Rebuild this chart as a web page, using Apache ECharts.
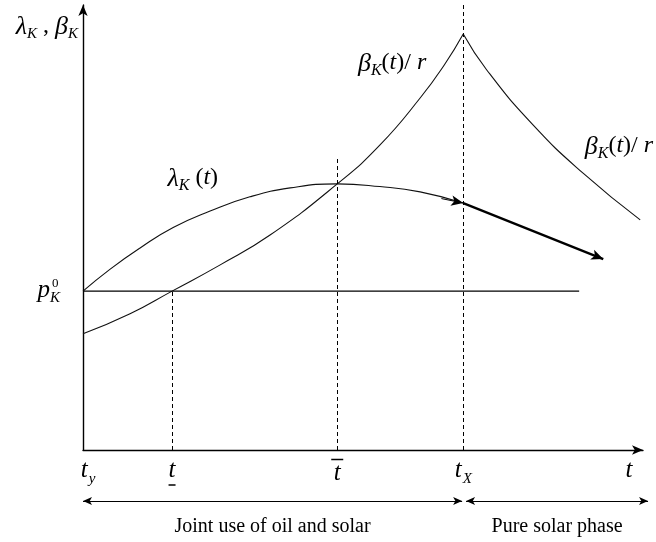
<!DOCTYPE html>
<html><head><meta charset="utf-8">
<script src="https://cdn.jsdelivr.net/npm/echarts@6/dist/echarts.min.js"></script>
<style>html,body{margin:0;padding:0;background:#fff}#c{width:656px;height:542px}</style>
</head><body><div id="c"></div>
<script>
// ---- data (x: time, 0..100 ; y: value, 0..100) ----
const lambdaX = [0, 4.8, 10.2, 16.1, 22.7, 29.8, 37.0, 45.4, 53.0, 60.2, 67.9];
const lambdaY = [35.7, 40.6, 45.4, 50.0, 53.7, 56.9, 58.9, 59.8, 59.2, 58.0, 55.5];
const betaRiseX = [0, 8.4, 15.9, 24.5, 33.4, 45.4, 53.0, 60.2, 64.6, 67.9];
const betaRiseY = [26.1, 30.6, 35.7, 41.6, 48.3, 59.8, 68.5, 79.1, 86.7, 93.5];
const betaFallX = [67.9, 72.1, 80.4, 89.3, 99.5];
const betaFallY = [93.5, 85.4, 73.0, 62.2, 51.7];
const pK0 = 35.7;
const pLineEnd = 88.6;
const tLow = 15.9, tBar = 45.4, tX = 67.9;
const lambdaArrowEnd = [92.9, 42.9];
const xTicks = [0.9, tLow, tBar, tX, 97.5];
const xTickLabels = ['{t|t}{sub|y}', '{t|t}\n{barS|}', '{barL|}\n{t|t}', '{t|t}{sub|X}', '{t|t}'];
const yTicks = [pK0, 94.8];
const yTickLabels = ['{p|p}{sub2|K}{gap|}', '{g|λ}{sub2|K}{n| , }{g|β}{sub2|K}'];
const dashedTops = [pK0, 65.6, 100];
const phaseNames = ['Joint use of oil and solar', 'Pure solar phase'];
const phaseBounds = [0, 67.7, 68.4, 100.9];
const curveLabels = [
  {name: 'beta1', coord: [55.2, 86.5], text: '{g|β}{sub|K}{n|(}{i|t}{n|)/ }{i|r}'},
  {name: 'beta2', coord: [95.7, 67.9], text: '{g|β}{sub|K}{n|(}{i|t}{n|)/ }{i|r}'},
  {name: 'lambda', coord: [19.6, 60.7], text: '{g|λ}{sub|K}{n| (}{i|t}{n|)}'}
];

const F = 'Liberation Serif';
const K = '#000';
const zip = (xs, ys) => xs.map((x, i) => [x, ys[i]]);

const rich = {
  t: {fontFamily: F, fontStyle: 'italic', fontSize: 25, lineHeight: 26, verticalAlign: 'top', color: K},
  sub: {fontFamily: F, fontStyle: 'italic', fontSize: 15, lineHeight: 15, padding: [14, 0, 0, 1], verticalAlign: 'top', color: K},
  barS: {width: 7, height: 1.5, lineHeight: 2, backgroundColor: K},
  barL: {width: 12, height: 1.5, lineHeight: 3, backgroundColor: K},
  p: {fontFamily: F, fontStyle: 'italic', fontSize: 25, lineHeight: 26, verticalAlign: 'top', color: K},
  g: {fontFamily: F, fontStyle: 'italic', fontSize: 26, lineHeight: 28, verticalAlign: 'top', color: K},
  n: {fontFamily: F, fontSize: 24, lineHeight: 28, verticalAlign: 'top', color: K},
  i: {fontFamily: F, fontStyle: 'italic', fontSize: 24, lineHeight: 28, verticalAlign: 'top', color: K},
  sub2: {fontFamily: F, fontStyle: 'italic', fontSize: 15, lineHeight: 15, padding: [12, 0, 0, 0], verticalAlign: 'top', color: K},
  gap: {width: 18}
};
const richLbl = Object.assign({}, rich, {
  sub: {fontFamily: F, fontStyle: 'italic', fontSize: 16, lineHeight: 16, padding: [12, 0, 0, 0], verticalAlign: 'top', color: K}
});

const thin = {color: '#111', width: 1.1};
const noEmph = {disabled: true};

const chart = echarts.init(document.getElementById('c'));
const option = {
  animation: false,
  backgroundColor: '#fff',
  grid: [
    {left: 83, right: 13, top: 5, bottom: 92},
    {left: 83, right: 7.4, top: 496, height: 10}
  ],
  xAxis: [
    {type: 'value', gridIndex: 0, min: 0, max: 100,
      axisLine: {show: true, onZero: false, lineStyle: {color: K, width: 1.4}, symbol: ['none', 'arrow'], symbolSize: [7, 11]},
      axisTick: {show: false}, splitLine: {show: false},
      axisLabel: {show: true, customValues: xTicks, margin: 8,
        formatter: v => xTickLabels[xTicks.indexOf(v)] || '', rich: rich}},
    {type: 'value', gridIndex: 1, min: 0, max: 101, show: false}
  ],
  yAxis: [
    {type: 'value', gridIndex: 0, min: 0, max: 100,
      axisLine: {show: true, onZero: false, lineStyle: {color: K, width: 1.4}, symbol: ['none', 'arrow'], symbolSize: [7, 11]},
      axisTick: {show: false}, splitLine: {show: false},
      axisLabel: {show: true, customValues: yTicks, margin: 5,
        formatter: v => yTickLabels[yTicks.indexOf(v)] || '', rich: rich}},
    {type: 'value', gridIndex: 1, min: 0, max: 1, show: false}
  ],
  series: [
    {type: 'line', name: 'lambda', data: zip(lambdaX, lambdaY), smooth: 0.5, showSymbol: false, symbol: 'none',
      lineStyle: thin, emphasis: noEmph, silent: true,
      markLine: {silent: true, symbol: ['none', 'arrow'], label: {show: false}, emphasis: noEmph,
        data: [
          [{coord: [64.0, 56.5], symbolSize: [6, 8], lineStyle: {color: K, width: 1, type: 'solid'}},
           {coord: [67.9, 55.5]}],
          [{coord: [lambdaX[lambdaX.length - 1], lambdaY[lambdaY.length - 1]], lineStyle: {color: K, width: 2.4, type: 'solid'}},
           {coord: lambdaArrowEnd}]
        ],
        symbolSize: [8, 12]}
    },
    {type: 'line', name: 'betaRise', data: zip(betaRiseX, betaRiseY), smooth: 0.5, showSymbol: false, symbol: 'none',
      lineStyle: thin, emphasis: noEmph, silent: true},
    {type: 'line', name: 'betaFall', data: zip(betaFallX, betaFallY), smooth: 0.5, showSymbol: false, symbol: 'none',
      lineStyle: thin, emphasis: noEmph, silent: true,
      markPoint: {silent: true, symbol: 'circle', symbolSize: 0,
        label: {show: true, position: 'inside', rich: richLbl},
        data: curveLabels.map(c => ({name: c.name, coord: c.coord, label: {formatter: c.text}}))}
    },
    {type: 'line', name: 'p0', data: [[0, pK0], [pLineEnd, pK0]], showSymbol: false, symbol: 'none',
      lineStyle: {color: K, width: 1.3}, emphasis: noEmph, silent: true,
      markLine: {silent: true, symbol: ['none', 'none'], label: {show: false}, emphasis: noEmph,
        lineStyle: {color: K, width: 1, type: [4, 3]},
        data: [tLow, tBar, tX].map((x, i) => [{coord: [x, 0]}, {coord: [x, dashedTops[i]]}])}
    },
    {type: 'line', name: 'phases', xAxisIndex: 1, yAxisIndex: 1, data: [[0, 0.5]], showSymbol: false, symbol: 'none',
      lineStyle: {opacity: 0}, emphasis: noEmph, silent: true,
      markLine: {silent: true, symbol: ['arrow', 'arrow'], symbolSize: [6, 9], emphasis: noEmph,
        lineStyle: {color: K, width: 1.1, type: 'solid'},
        label: {show: true, position: 'insideMiddleBottom', distance: 16, formatter: '{b}',
          fontFamily: F, fontSize: 20, color: K},
        data: phaseNames.map((n, i) => [{name: n, coord: [phaseBounds[i * 2], 0.5]}, {name: n, coord: [phaseBounds[i * 2 + 1], 0.5]}])}
    }
  ]
};
chart.setOption(option);
const pt = chart.convertToPixel({xAxisIndex: 0, yAxisIndex: 0}, [0, pK0]);
chart.setOption({graphic: [{type: 'text', x: pt[0] - 31, y: pt[1] - 14,
  style: {text: '0', font: '13px "Liberation Serif"', fill: K}}]});
</script>
</body></html>
